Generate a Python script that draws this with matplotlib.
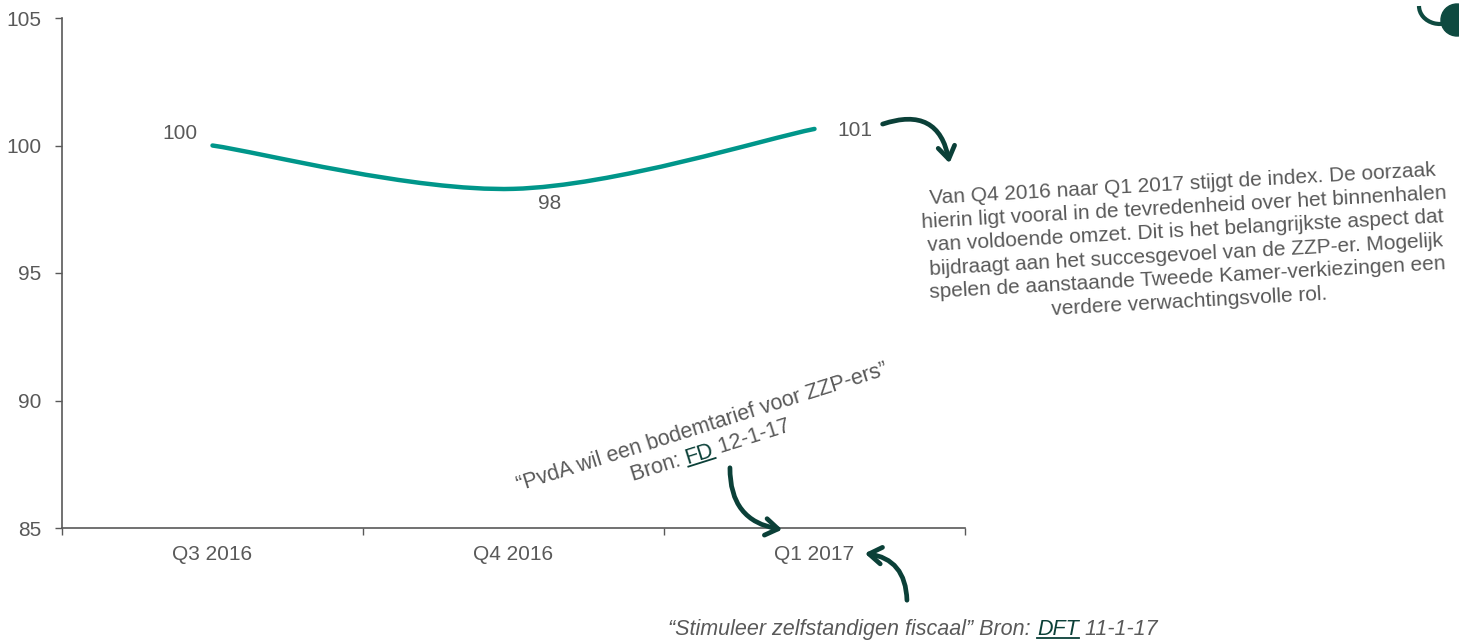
import numpy as np
import matplotlib
matplotlib.use("Agg")
import matplotlib.pyplot as plt
from matplotlib.path import Path
from matplotlib.patches import PathPatch, FancyArrowPatch, Circle, Arc
from matplotlib.lines import Line2D

# ------------------------------------------------------------
# data
# ------------------------------------------------------------
quarters = ["Q3 2016", "Q4 2016", "Q1 2017"]
index_values = [100.0, 98.3, 100.65]
value_labels = ["100", "98", "101"]
y_ticks = [85, 90, 95, 100, 105]

note_text = ("Van Q4 2016 naar Q1 2017 stijgt de index. De oorzaak\n"
             "hierin ligt vooral in de tevredenheid over het binnenhalen\n"
             "van voldoende omzet. Dit is het belangrijkste aspect dat\n"
             "bijdraagt aan het succesgevoel van de ZZP-er. Mogelijk\n"
             "spelen de aanstaande Tweede Kamer-verkiezingen een\n"
             "verdere verwachtingsvolle rol.")
quote_fd = "\u201cPvdA wil een bodemtarief voor ZZP-ers\u201d"

W, H = 1459, 640
TEAL = "#00968A"
DARK = "#0B4038"
GREY = "#595959"
FS = 15
FSQ = 15.5

plt.rcParams["font.family"] = ["Liberation Sans", "DejaVu Sans"]

fig = plt.figure(figsize=(W / 100, H / 100), dpi=100)
ax = fig.add_axes([62 / W, 1 - 528 / H, (965 - 62) / W, (528 - 18) / H])


def px(x, y):
    # image pixels (y down) -> figure fraction
    return x / W, 1 - y / H


# ------------------------------------------------------------
# smoothed line (catmull-rom as bezier, like Excel "smooth line")
# ------------------------------------------------------------
x = np.arange(len(quarters))
pts = np.column_stack([x, index_values])
verts = [pts[0]]
codes = [Path.MOVETO]
for i in range(len(pts) - 1):
    p_prev = pts[max(i - 1, 0)]
    p_next2 = pts[min(i + 2, len(pts) - 1)]
    verts += [pts[i] + (pts[i + 1] - p_prev) / 6,
              pts[i + 1] - (p_next2 - pts[i]) / 6,
              pts[i + 1]]
    codes += [Path.CURVE4] * 3
ax.add_patch(PathPatch(Path(verts, codes), fill=False, edgecolor=TEAL,
                       lw=3.2, capstyle="round"))

offsets = [(-33, 12), (36, -15), (40, -2)]
for xi, yi, lab, off in zip(x, index_values, value_labels, offsets):
    ax.annotate(lab, (xi, yi), xytext=off, textcoords="offset pixels",
                ha="center", va="center", fontsize=FS, color=GREY)

# ------------------------------------------------------------
# axes styling
# ------------------------------------------------------------
ax.set_xlim(-0.5, len(quarters) - 0.5)
ax.set_ylim(85, 105)
ax.set_yticks(y_ticks)
ax.set_xticks(x)
ax.set_xticklabels(quarters)
ax.set_xticks(np.arange(len(quarters) + 1) - 0.5, minor=True)
ax.tick_params(axis="x", which="major", length=0, pad=12, labelsize=FS, labelcolor=GREY)
ax.tick_params(axis="x", which="minor", length=5, width=1, color=GREY, direction="out")
ax.tick_params(axis="y", length=5, width=1, color=GREY, pad=10, labelsize=FS, labelcolor=GREY)
for s in ["top", "right"]:
    ax.spines[s].set_visible(False)
for s in ["left", "bottom"]:
    ax.spines[s].set_color(GREY)
    ax.spines[s].set_linewidth(1.2)

# ------------------------------------------------------------
# annotations
# ------------------------------------------------------------
fig.text(*px(1186, 243), note_text, ha="center", va="center", rotation=3.2,
         rotation_mode="anchor", multialignment="center", linespacing=1.3,
         fontsize=FS, color=GREY)

fig.text(*px(704, 433), quote_fd, ha="center", va="baseline", rotation=17.5,
         rotation_mode="anchor", fontsize=FSQ, color=GREY)

fig.canvas.draw()
renderer = fig.canvas.get_renderer()


def text_width(s, style, size):
    t = fig.text(0, 0, s + "|", fontsize=size, style=style)
    t2 = fig.text(0, 0, "|", fontsize=size, style=style)
    w = t.get_window_extent(renderer).width - t2.get_window_extent(renderer).width
    t.remove()
    t2.remove()
    return w


def draw_pieces(cx, cy, pieces, angle, style="normal", size=FSQ):
    widths = [text_width(s, style, size) for s, _, _ in pieces]
    total = sum(widths)
    a = np.deg2rad(angle)
    ux, uy = np.cos(a), np.sin(a)
    sx = cx - total / 2 * ux
    sy = (H - cy) - total / 2 * uy
    pos = 0
    for (s, col, under), w in zip(pieces, widths):
        bx, by = sx + pos * ux, sy + pos * uy
        fig.text(bx / W, by / H, s, color=col, fontsize=size, style=style,
                 rotation=angle, rotation_mode="anchor", ha="left", va="baseline")
        if under:
            nx, ny = np.sin(a) * 3, -np.cos(a) * 3
            fig.add_artist(Line2D([(bx + nx) / W, (bx + nx + w * ux) / W],
                                  [(by + ny) / H, (by + ny + w * uy) / H],
                                  color=col, lw=1.3, transform=fig.transFigure))
        pos += w


draw_pieces(712, 456, [("Bron: ", GREY, False), ("FD", DARK, True),
                       (" 12-1-17", GREY, False)], 17.5)
draw_pieces(913, 635, [("\u201cStimuleer zelfstandigen fiscaal\u201d Bron: ", GREY, False),
                       ("DFT", DARK, True), (" 11-1-17", GREY, False)], 0, style="italic")

# curved arrows
arrows = [((880, 125), (950, 166), -0.6),
          ((730, 465), (785, 530), 0.45),
          ((907, 603), (862, 553), 0.45)]
for a0, a1, rad in arrows:
    fig.add_artist(FancyArrowPatch(px(*a0), px(*a1), transform=fig.transFigure,
                                   connectionstyle=f"arc3,rad={rad}",
                                   arrowstyle="->,head_length=9,head_width=6",
                                   color=DARK, lw=3.4, capstyle="round",
                                   joinstyle="round"))

# logo fragment top right
fig.add_artist(Circle((1457, 620), 16, transform=None, color="#0E4A40"))
fig.add_artist(Arc((1440, 634), 42, 36, theta1=180, theta2=330, transform=None,
                   color="#0E4A40", lw=3))

fig.savefig("out.png", dpi=100)
